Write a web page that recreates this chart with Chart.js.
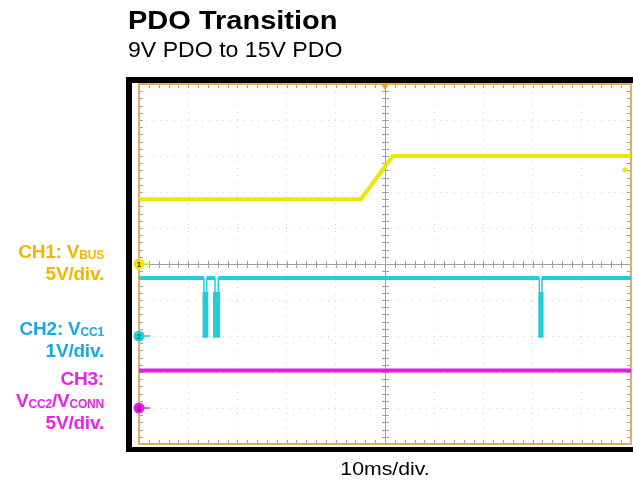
<!DOCTYPE html>
<html>
<head>
<meta charset="utf-8">
<script src="https://cdn.jsdelivr.net/npm/chart.js@4.4.0/dist/chart.umd.min.js"></script>
<style>
html, body { margin: 0; padding: 0; background: #fff; }
body { width: 633px; height: 484px; position: relative; overflow: hidden; font-family: "Liberation Sans", Arial, Helvetica, sans-serif; }
#frame { position: absolute; left: 126px; top: 77px; width: 560px; height: 364px; background: #fff;
  border-left: 6px solid #000; border-top: 6px solid #000; border-bottom: 5px solid #000; }
#scope { position: absolute; left: 0; top: 0; }
.title { position: absolute; left: 128px; top: 6px; font-size: 25px; font-weight: bold; color: #000; white-space: nowrap;
  transform: scaleX(1.16); transform-origin: left top; }
.sub { position: absolute; left: 128px; top: 37px; font-size: 22px; color: #000; white-space: nowrap;
  transform: scaleX(1.05); transform-origin: left top; }
.xlab { position: absolute; left: 139px; width: 492px; top: 459px; text-align: center; font-size: 18px; color: #000;
  transform: scaleX(1.18); transform-origin: center top; }
.lbl { position: absolute; left: 0; width: 104px; text-align: right; font-size: 19px; font-weight: bold; line-height: 22px; white-space: nowrap; letter-spacing: -0.2px; }
.lbl sub { font-size: 12px; vertical-align: -1px; line-height: 0; }
</style>
</head>
<body>
<div id="frame"></div>
<canvas id="scope" width="633" height="484"></canvas>

<div class="title">PDO Transition</div>
<div class="sub">9V PDO to 15V PDO</div>
<div class="xlab">10ms/div.</div>

<div class="lbl" style="top:241px;color:#f5b400">CH1: V<sub>BUS</sub><br>5V/div.</div>
<div class="lbl" style="top:318px;color:#1aa8e4">CH2: V<sub>CC1</sub><br>1V/div.</div>
<div class="lbl" style="top:368px;color:#ec22e4">CH3:<br>V<sub>CC2</sub>/V<sub>CONN</sub><br>5V/div.</div>

<script>
// time axis, ms (10ms/div, 10 div)
const timeTicks = [10, 20, 30, 40, 60, 70, 80, 90];

// CH1: VBUS (V), 5V/div, ground at centre
const timeCh1 = [0, 45.1, 51.6, 100];
const vbus = [9, 9, 15, 15];
const trigLevel = 13.1;
const ch1Ticks = [-20, -15, -10, -5, 5, 10, 15, 20];

// CH2: VCC1 (V), 1V/div - idle level with the PD message bursts
const timeCh2 = [0, 13.2, 13.2, 13.5, 13.76, 13.76, 15.45, 15.45, 15.8, 16.12, 16.12, 81.36, 81.36, 81.6, 81.9, 81.9, 100];
const vcc1 = [1.61, 1.61, 1.23, null, 1.23, 1.61, 1.61, 1.23, null, 1.23, 1.61, 1.61, 1.23, null, 1.23, 1.61, 1.61];
const burstStart = [12.87, 15.05, 81.16];
const burstEnd = [14.09, 16.5, 82.26];
const burstTop = 1.23;
const burstLow = -0.05;

// CH3: VCC2/VCONN (V), 5V/div
const timeCh3 = [0, 100];
const vconn = [5.2, 5.2];

const YELLOW = '#eee600';
const CYAN = '#22cdd6';
const MAGENTA = '#e01ee0';
const ORANGE = '#e3ac5c';

function pts(xs, ys) {
    return xs.map((x, i) => ({ x: x, y: ys[i] }));
}

// burst envelope: rectangles joined along the low level (no border drawn)
const burstPts = [];
burstStart.forEach((s, i) => {
    burstPts.push({ x: s, y: burstLow }, { x: s, y: burstTop }, { x: burstEnd[i], y: burstTop }, { x: burstEnd[i], y: burstLow });
});

const scopeDecor = {
    id: 'scopeDecor',
    beforeDatasetsDraw(chart) {
        const { ctx, chartArea: a, scales } = chart;
        const x = scales.x, y = scales.y;
        const cx = x.getPixelForValue(50), cy = y.getPixelForValue(0);
        ctx.save();
        // centre cross
        ctx.strokeStyle = '#a0a0a0';
        ctx.lineWidth = 1;
        ctx.beginPath();
        ctx.moveTo(Math.round(cx) + 0.5, a.top); ctx.lineTo(Math.round(cx) + 0.5, a.bottom);
        ctx.moveTo(a.left, Math.round(cy) + 0.5); ctx.lineTo(a.right, Math.round(cy) + 0.5);
        // minor ticks, 1/5 div
        for (let t = 0; t <= 100; t += 2) {
            const px = Math.round(x.getPixelForValue(t)) + 0.5;
            ctx.moveTo(px, cy - 3); ctx.lineTo(px, cy + 4);
            ctx.moveTo(px, a.top); ctx.lineTo(px, a.top + 4);
            ctx.moveTo(px, a.bottom); ctx.lineTo(px, a.bottom - 4);
        }
        for (let v = -25; v <= 25; v += 1) {
            const py = Math.round(y.getPixelForValue(v)) + 0.5;
            ctx.moveTo(cx - 3, py); ctx.lineTo(cx + 4, py);
            ctx.moveTo(a.left, py); ctx.lineTo(a.left + 4, py);
            ctx.moveTo(a.right, py); ctx.lineTo(a.right - 4, py);
        }
        ctx.stroke();
        // frame of the graticule
        ctx.strokeStyle = ORANGE;
        ctx.lineWidth = 2;
        ctx.strokeRect(a.left, a.top, a.right - a.left, a.bottom - a.top);
        ctx.restore();
    },
    afterDatasetsDraw(chart) {
        const { ctx, chartArea: a, scales } = chart;
        ctx.save();
        // trigger position
        const tx = scales.x.getPixelForValue(50);
        ctx.fillStyle = '#e8a030';
        ctx.beginPath();
        ctx.moveTo(tx - 4, a.top); ctx.lineTo(tx + 4, a.top); ctx.lineTo(tx, a.top + 6); ctx.closePath();
        ctx.fill();
        // trigger level
        ctx.fillStyle = YELLOW;
        ctx.beginPath();
        ctx.arc(a.right - 6, scales.y.getPixelForValue(trigLevel), 2.5, 0, Math.PI * 2);
        ctx.fill();
        // ground markers
        const marks = [['1', 'y', YELLOW, '#333'], ['2', 'y2', CYAN, '#0a6a70'], ['3', 'y3', MAGENTA, '#7a0a7a']];
        ctx.font = 'bold 8px "Liberation Sans", Arial, sans-serif';
        ctx.textAlign = 'center';
        ctx.textBaseline = 'middle';
        marks.forEach(([n, axis, col, txt]) => {
            const py = scales[axis].getPixelForValue(0);
            ctx.strokeStyle = col;
            ctx.lineWidth = 1.5;
            ctx.beginPath(); ctx.moveTo(a.left, py); ctx.lineTo(a.left + 11, py); ctx.stroke();
            ctx.fillStyle = col;
            ctx.beginPath(); ctx.arc(a.left, py, 5.5, 0, Math.PI * 2); ctx.fill();
            ctx.fillStyle = txt;
            ctx.fillText(n, a.left, py + 0.5);
        });
        ctx.restore();
    }
};

const gridOpts = { color: '#d2d2d2', lineWidth: 1, drawTicks: false };

new Chart(document.getElementById('scope').getContext('2d'), {
    type: 'line',
    data: {
        datasets: [
            { data: pts(timeCh3, vconn), yAxisID: 'y3', borderColor: MAGENTA, borderWidth: 4 },
            { data: burstPts, yAxisID: 'y2', borderColor: 'transparent', borderWidth: 1,
              backgroundColor: CYAN, fill: { value: burstLow } },
            { data: pts(timeCh2, vcc1), yAxisID: 'y2', borderColor: CYAN, borderWidth: 4,
              segment: { borderWidth: c => c.p0.parsed.x === c.p1.parsed.x ? 1.5 : 4 } },
            { data: pts(timeCh1, vbus), yAxisID: 'y', borderColor: YELLOW, borderWidth: 4 }
        ]
    },
    options: {
        responsive: false,
        animation: false,
        layout: { padding: { left: 139, top: 84, right: 2, bottom: 40 } },
        plugins: { legend: { display: false }, tooltip: { enabled: false } },
        elements: { point: { radius: 0 }, line: { tension: 0, borderCapStyle: 'butt' } },
        scales: {
            x: { type: 'linear', min: 0, max: 100, afterBuildTicks: s => { s.ticks = timeTicks.map(v => ({ value: v })); },
                 ticks: { display: false }, grid: gridOpts, border: { display: false, dash: [1, 6] } },
            y: { type: 'linear', min: -25, max: 25, afterBuildTicks: s => { s.ticks = ch1Ticks.map(v => ({ value: v })); },
                 ticks: { display: false }, grid: gridOpts, border: { display: false, dash: [1, 6] } },
            y2: { type: 'linear', display: false, min: -3, max: 7 },
            y3: { type: 'linear', display: false, min: -5, max: 45 }
        }
    },
    plugins: [scopeDecor]
});
</script>
</body>
</html>
